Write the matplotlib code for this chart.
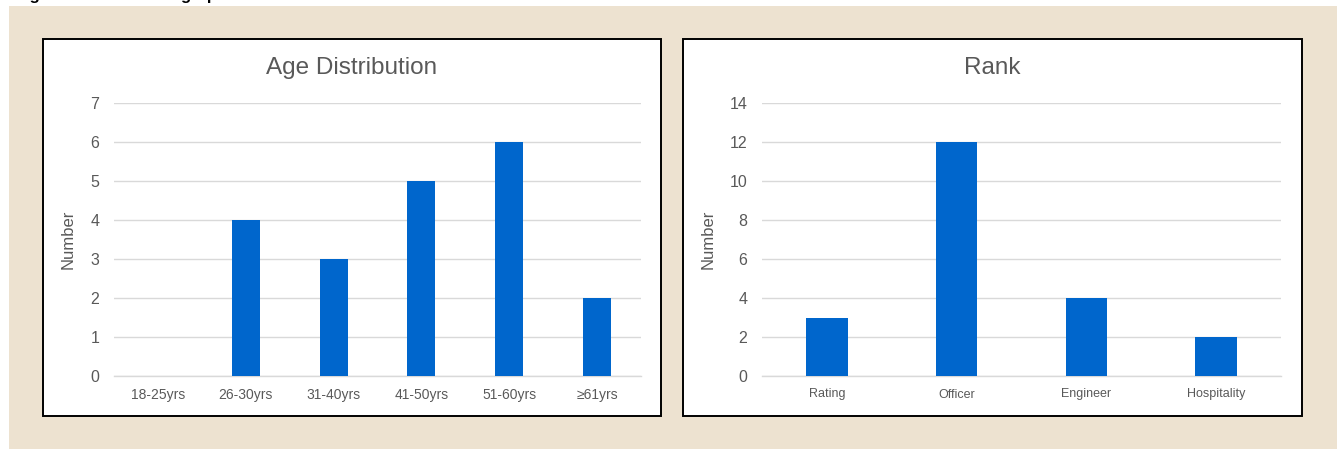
import numpy as np
import matplotlib
matplotlib.use("Agg")
import matplotlib.pyplot as plt
from matplotlib.patches import Rectangle

plt.rcParams['font.family'] = ['Liberation Sans', 'DejaVu Sans']

# data
age_groups = ["18-25yrs", "26-30yrs", "31-40yrs", "41-50yrs", "51-60yrs", "≥61yrs"]
age_counts = [0, 4, 3, 5, 6, 2]
ranks = ["Rating", "Officer", "Engineer", "Hospitality"]
rank_counts = [3, 12, 4, 2]

W, H = 1337, 449
bar_col = "#0066CC"
grid_col = "#D9D9D9"
txt_col = "#595959"

fig = plt.figure(figsize=(W/100, H/100), dpi=100)
fig.patch.set_facecolor("white")

def px_rect(x0, y0, x1, y1):
    # pixel box (top-left origin) -> figure fraction [l, b, w, h]
    return [x0/W, 1 - y1/H, (x1-x0)/W, (y1-y0)/H]

# beige backdrop
l, b, w, h = px_rect(9, 6, W, H)
fig.patches.append(Rectangle((l, b), w, h, transform=fig.transFigure,
                             facecolor="#EDE2D0", edgecolor="none", zorder=0))

# white panels with black frame
for box in [(43, 39, 661, 416), (683, 39, 1302, 416)]:
    l, b, w, h = px_rect(*box)
    fig.patches.append(Rectangle((l, b), w, h, transform=fig.transFigure,
                                 facecolor="white", edgecolor="black",
                                 linewidth=1.4, zorder=1))

# caption, cut off at the top edge as in the source page
fig.text(15/W, 1 + 0.3/H, "Figure 1: Crew Demographic data", fontsize=12,
         fontweight="bold", color="black", va="baseline", ha="left")

def bar_panel(rect, cats, vals, ymax, ystep, title, xfs, ylab_x, title_x):
    ax = fig.add_axes(px_rect(*rect))
    ax.set_facecolor("none")
    ax.set_zorder(2)
    x = np.arange(len(cats))
    ax.bar(x, vals, width=0.32, color=bar_col, zorder=3)
    ax.set_xlim(-0.5, len(cats) - 0.5)
    ax.set_ylim(0, ymax)
    ax.set_yticks(np.arange(0, ymax + 1, ystep))
    ax.set_xticks(x)
    ax.set_xticklabels(cats, fontsize=xfs, color=txt_col)
    ax.tick_params(axis="y", length=0, pad=10.5, labelsize=11.5, labelcolor=txt_col)
    ax.tick_params(axis="x", length=0, pad=9)
    ax.yaxis.grid(True, color=grid_col, linewidth=1.0)
    ax.set_axisbelow(True)
    for s in ["top", "right", "left"]:
        ax.spines[s].set_visible(False)
    ax.spines["bottom"].set_color(grid_col)
    ax.spines["bottom"].set_linewidth(1.0)
    ax.set_ylabel("Number", fontsize=12, color=txt_col)
    ax.yaxis.set_label_coords(ylab_x, 0.5)
    fig.text(title_x/W, 1 - 68/H, title, fontsize=17.5, color=txt_col,
             ha="center", va="center")
    return ax

bar_panel((114, 103, 641, 376), age_groups, age_counts, 7, 1,
          "Age Distribution", 10, -0.072, 352)
bar_panel((762, 103, 1281, 376), ranks, rank_counts, 14, 2,
          "Rank", 9, -0.09, 992)

fig.savefig("out.png", dpi=100)
